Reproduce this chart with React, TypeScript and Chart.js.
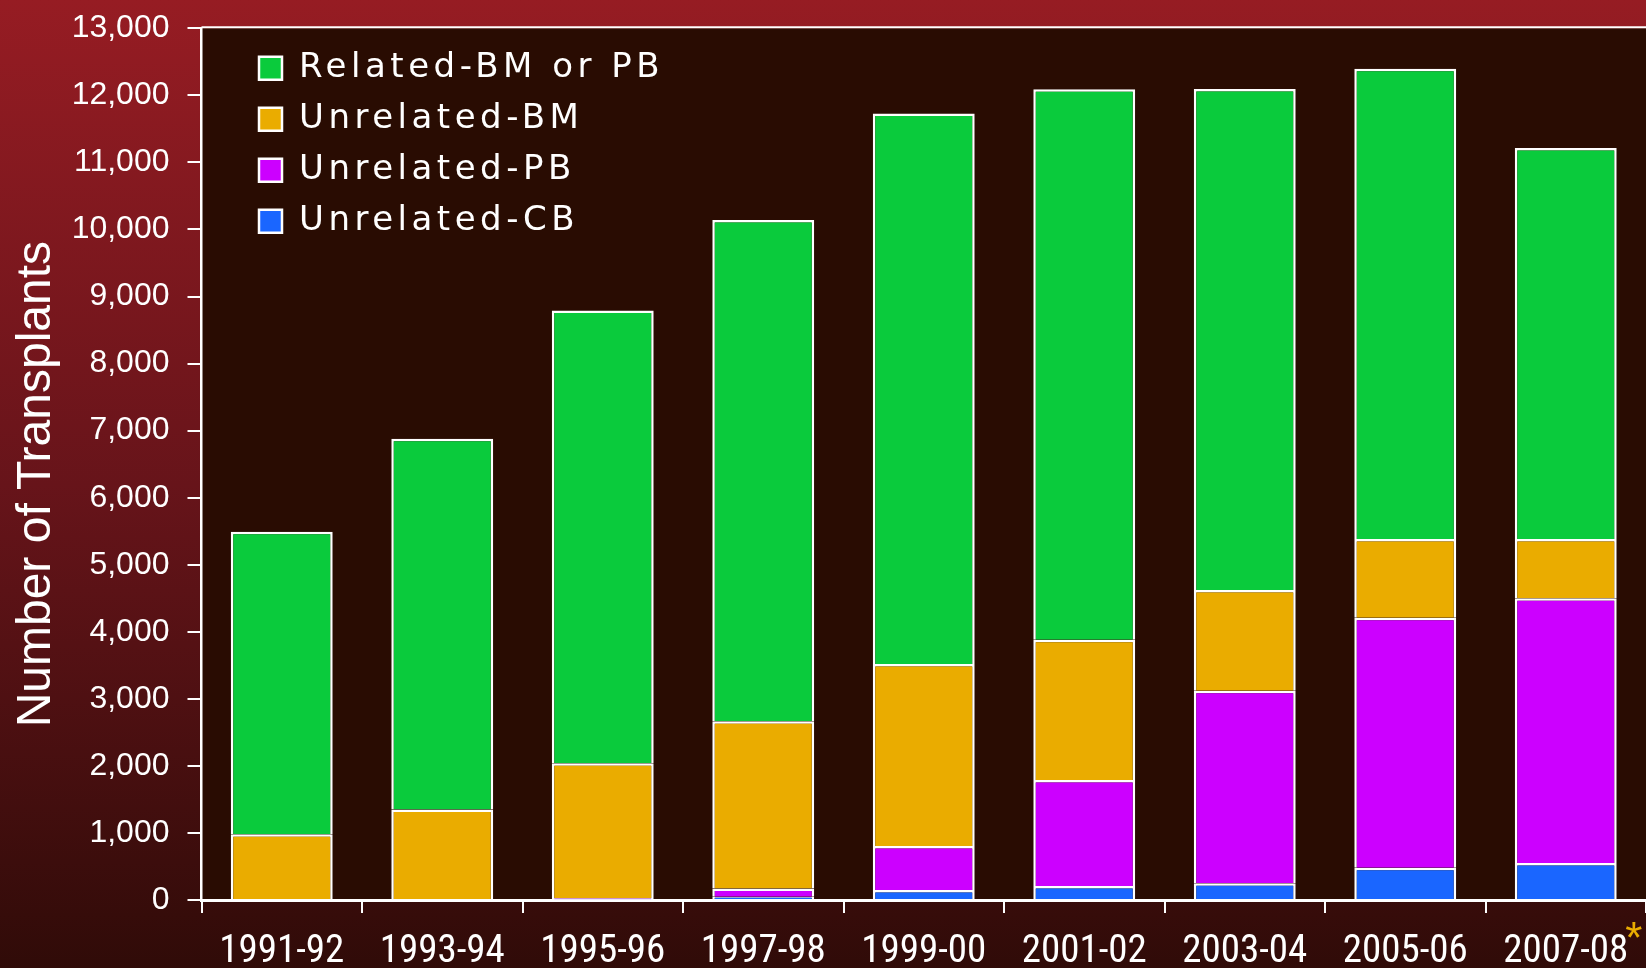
import React, { useEffect, useRef } from 'react';
import { Chart, registerables } from 'chart.js';

Chart.register(...registerables);

const categories = ['1991-92', '1993-94', '1995-96', '1997-98', '1999-00', '2001-02', '2003-04', '2005-06', '2007-08'];
const relatedBMorPB = [4510, 5530, 6750, 7475, 8210, 8210, 7470, 7010, 5830];
const unrelatedBM = [980, 1350, 2010, 2495, 2715, 2090, 1505, 1175, 885];
const unrelatedPB = [0, 0, 20, 120, 655, 1580, 2870, 3730, 3950];
const unrelatedCB = [0, 0, 10, 50, 150, 210, 250, 480, 550];
const yTicks = [0, 1000, 2000, 3000, 4000, 5000, 6000, 7000, 8000, 9000, 10000, 11000, 12000, 13000];
const yTitle = 'Number of Transplants';
const footnoteMark = '*';

const COLORS = {
  related: '#0acb3c',
  ubm: '#eaac00',
  upb: '#cc00ff',
  ucb: '#1a66ff',
};

const X_FONT_FAMILY = '"Roboto Condensed", "Liberation Sans", Arial, sans-serif';
const X_FONT_SIZE = 39;

const backgroundPlugin = {
  id: 'bgPlugin',
  beforeDraw(chart: any) {
    const { ctx, width, height, chartArea } = chart;
    ctx.save();
    const g = ctx.createLinearGradient(0, 0, 0, height);
    g.addColorStop(0, '#961c23');
    g.addColorStop(0.5, '#67141a');
    g.addColorStop(1, '#300b08');
    ctx.fillStyle = g;
    ctx.fillRect(0, 0, width, height);
    ctx.fillStyle = '#290c02';
    ctx.fillRect(chartArea.left, chartArea.top, chartArea.right - chartArea.left, chartArea.bottom - chartArea.top);
    ctx.strokeStyle = '#ffffff';
    ctx.lineWidth = 2;
    ctx.beginPath();
    ctx.moveTo(chartArea.left, chartArea.top - 1);
    ctx.lineTo(chartArea.right, chartArea.top - 1);
    ctx.stroke();
    ctx.restore();
  },
};

const legendTweakPlugin = {
  id: 'legendTweak',
  afterLayout(chart: any) {
    const lg = chart.legend;
    if (!lg) return;
    const ca = chart.chartArea;
    const h = lg.bottom - lg.top;
    const w = lg.right - lg.left;
    lg.left = ca.left + 40.5;
    lg.right = lg.left + w;
    lg.top = ca.top + 6;
    lg.bottom = lg.top + h;
    if (!lg.__wrapped) {
      const orig = lg.draw;
      lg.draw = function (...args: any[]) {
        const ctx = chart.ctx;
        ctx.save();
        (ctx as any).letterSpacing = '4.5px';
        orig.apply(this, args);
        ctx.restore();
      };
      lg.__wrapped = true;
    }
  },
};

const footnotePlugin = {
  id: 'footnote',
  afterDraw(chart: any) {
    const { ctx } = chart;
    const xs = chart.scales.x;
    const i = categories.length - 1;
    const cx = xs.getPixelForValue(i);
    ctx.save();
    ctx.font = `${X_FONT_SIZE}px ${X_FONT_FAMILY}`;
    const w = ctx.measureText(categories[i]).width;
    ctx.font = '44px "Liberation Sans", Arial, sans-serif';
    ctx.fillStyle = '#eaac00';
    ctx.textAlign = 'left';
    ctx.textBaseline = 'alphabetic';
    ctx.fillText(footnoteMark, cx + w / 2 - 3, xs.top + 53);
    ctx.restore();
  },
};

export default function App() {
  const canvasRef = useRef<HTMLCanvasElement | null>(null);

  useEffect(() => {
    if (!canvasRef.current) return;
    const chart = new Chart(canvasRef.current, {
      type: 'bar',
      data: {
        labels: categories,
        datasets: [
          { label: 'Unrelated-CB', data: unrelatedCB, backgroundColor: COLORS.ucb },
          { label: 'Unrelated-PB', data: unrelatedPB, backgroundColor: COLORS.upb },
          { label: 'Unrelated-BM', data: unrelatedBM, backgroundColor: COLORS.ubm },
          { label: 'Related-BM or PB', data: relatedBMorPB, backgroundColor: COLORS.related },
        ].map((d) => ({
          ...d,
          borderColor: '#ffffff',
          borderWidth: 2.5,
          borderSkipped: 'start',
          categoryPercentage: 1,
          barPercentage: 0.635,
        })) as any,
      },
      options: {
        animation: false,
        responsive: true,
        maintainAspectRatio: false,
        layout: { padding: { top: 28.3, right: 0, bottom: 0, left: 0 } },
        plugins: {
          tooltip: { enabled: false },
          legend: {
            position: 'chartArea' as any,
            align: 'start',
            reverse: true,
            labels: {
              color: '#ffffff',
              boxWidth: 23,
              boxHeight: 23,
              padding: 17,
              font: { family: '"DejaVu Sans", Verdana, sans-serif', size: 34 },
            },
          },
        },
        scales: {
          x: {
            stacked: true,
            offset: true,
            grid: {
              offset: true,
              drawOnChartArea: false,
              drawTicks: true,
              tickLength: 13,
              color: '#ffffff',
              lineWidth: 2,
            },
            border: { display: true, color: '#ffffff', width: 3 },
            ticks: {
              color: '#ffffff',
              maxRotation: 0,
              autoSkip: false,
              padding: 20,
              font: { family: X_FONT_FAMILY, size: X_FONT_SIZE, lineHeight: 1 },
            },
            afterFit: (s: any) => {
              s.height = 68;
              s.paddingLeft = 0;
              s.paddingRight = 0;
            },
          },
          y: {
            stacked: true,
            min: 0,
            max: 13000,
            grid: {
              drawOnChartArea: false,
              drawTicks: true,
              tickLength: 14,
              color: '#ffffff',
              lineWidth: 2,
            },
            border: { display: true, color: '#ffffff', width: 2.5 },
            afterBuildTicks: (s: any) => {
              s.ticks = yTicks.map((v) => ({ value: v }));
            },
            ticks: {
              color: '#ffffff',
              padding: 18,
              font: { family: '"Liberation Sans", Arial, sans-serif', size: 32, lineHeight: 1.2 },
              callback: (v: any) => Number(v).toLocaleString('en-US'),
            },
            title: {
              display: true,
              text: yTitle + '   ',
              color: '#ffffff',
              padding: { top: 13, bottom: 0 },
              font: { family: '"Liberation Sans", Arial, sans-serif', size: 48, lineHeight: 1 },
            },
            afterFit: (s: any) => {
              s.width = 201.5;
              s.paddingTop = 0;
              s.paddingBottom = 0;
            },
          },
        },
      },
      plugins: [backgroundPlugin, legendTweakPlugin, footnotePlugin],
    });
    return () => chart.destroy();
  }, []);

  return (
    <div style={{ position: 'fixed', left: 0, top: 0, width: 1646, height: 968 }}>
      <canvas ref={canvasRef} />
    </div>
  );
}
